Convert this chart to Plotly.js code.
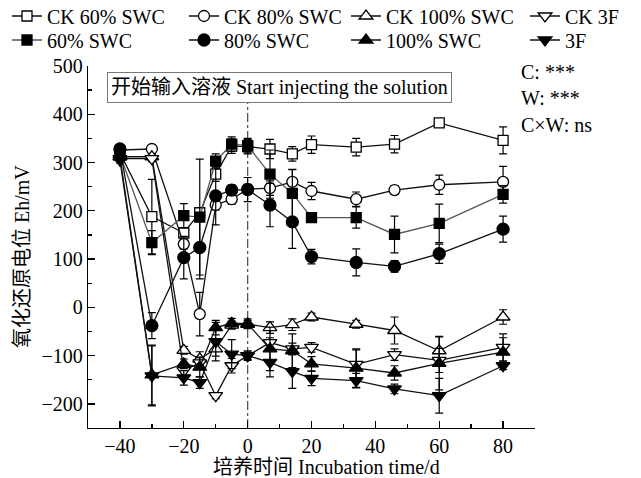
<!DOCTYPE html>
<html>
<head>
<meta charset="utf-8">
<script src="https://cdn.plot.ly/plotly-3.0.1.min.js"></script>
<style>html,body{margin:0;padding:0;background:#fff;}#chart{width:641px;height:478px;}</style>
</head>
<body>
<div id="chart"></div>
<script>
// Incubation days
const days = [-40, -30, -20, -15, -10, -5, 0, 7, 14, 20, 34, 46, 60, 80];

// Series names
const names = ["CK 60% SWC", "CK 80% SWC", "CK 100% SWC", "CK 3F",
               "60% SWC", "80% SWC", "100% SWC", "3F"];

// Eh (mV) values and error bars
const ck60     = [320, 188, 154, 196, 276, 334, 333, 328, 318, 337, 332, 338, 382, 346];
const ck60Err  = [6, 77, 8, 10, 15, 15, 15, 20, 15, 18, 18, 18, 6, 28];
const ck80     = [326, 328, 131, -14, 212, 224, 245, 247, 260, 241, 224, 243, 254, 260];
const ck80Err  = [6, 8, 10, 45, 10, 10, 10, 15, 25, 18, 15, 8, 20, 32];
const ck100    = [312, 312, -89, -107, -86, -37, -35, -42, -36, -20, -35, -48, -90, -20];
const ck100Err = [6, 6, 8, 15, 15, 8, 8, 12, 12, 8, 8, 28, 30, 15];
const ck3f     = [308, 308, -131, -115, -183, -121, -100, -73, -86, -83, -118, -98, -110, -83];
const ck3fErr  = [6, 6, 10, 12, 6, 15, 10, 10, 12, 10, 30, 12, 25, 28];
const s60      = [316, 134, 190, 187, 303, 338, 335, 276, 236, 186, 186, 151, 174, 234];
const s60Err   = [6, 25, 25, 120, 15, 15, 15, 50, 50, 8, 22, 38, 40, 18];
const s80      = [328, -38, 103, 124, 231, 243, 244, 212, 177, 105, 93, 85, 111, 162];
const s80Err   = [6, 27, 44, 65, 60, 10, 25, 45, 55, 15, 28, 12, 20, 27];
const s100     = [312, -140, -117, -124, -42, -33, -34, -86, -90, -117, -126, -136, -116, -93];
const s100Err  = [6, 62, 10, 20, 15, 10, 10, 45, 35, 15, 40, 15, 55, 30];
const s3f      = [305, -142, -146, -156, -71, -97, -100, -114, -133, -147, -152, -169, -183, -121];
const s3fErr   = [6, 62, 15, 12, 40, 30, 8, 30, 35, 15, 15, 10, 36, 8];

const FONT = "Liberation Serif, Noto Sans CJK SC, serif";

const seriesY = [ck60, ck80, ck100, ck3f, s60, s80, s100, s3f];
const seriesE = [ck60Err, ck80Err, ck100Err, ck3fErr, s60Err, s80Err, s100Err, s3fErr];
const symbols = ["square", "circle", "triangle-up", "triangle-down",
                 "square", "circle", "triangle-up", "triangle-down"];
const filled  = [false, false, false, false, true, true, true, true];
const lineCol = ["#111", "#111", "#111", "#111", "#555", "#111", "#111", "#111"];
const msize   = [10, 11, 12, 12, 10, 12, 12, 12];

// legend placement (container px)
const legX = [7, 184, 346, 525];
const legY = [16, 40];

const data = [];
const layoutLegends = {};
for (let i = 0; i < 8; i++) {
  const lname = i === 0 ? "legend" : "legend" + (i + 1);
  data.push({
    type: "scatter",
    mode: "lines+markers",
    name: names[i],
    x: days,
    y: seriesY[i],
    legend: lname,
    line: {color: lineCol[i], width: 1.3},
    marker: {
      symbol: symbols[i],
      size: msize[i],
      color: filled[i] ? "#000" : "#fff",
      line: {color: "#000", width: 1.3}
    },
    error_y: {type: "data", array: seriesE[i], visible: true, color: "#000", thickness: 1.2, width: 4}
  });
  const col = i % 4, row = Math.floor(i / 4);
  layoutLegends[lname] = {
    xref: "container", yref: "container",
    x: legX[col] / 641, y: 1 - legY[row] / 478,
    xanchor: "left", yanchor: "middle",
    bgcolor: "rgba(0,0,0,0)", borderwidth: 0,
    font: {family: FONT, size: 20, color: "#000"},
    itemwidth: 30
  };
}

const W = 447, H = 362, L = 88, T = 66;
function px(xp) { return (xp - L) / W; }
function py(yp) { return (T + H - yp) / H; }

const layout = Object.assign({
  width: 641, height: 478,
  margin: {l: 88, r: 106, t: 66, b: 50, autoexpand: false},
  paper_bgcolor: "#fff", plot_bgcolor: "#fff",
  font: {family: FONT, size: 20, color: "#000"},
  showlegend: true,
  xaxis: {
    range: [-50, 90], dtick: 20, tick0: 0,
    ticks: "inside", ticklen: 7, tickwidth: 1.3, tickcolor: "#000",
    minor: {dtick: 10, ticks: "inside", ticklen: 4, tickwidth: 1.3, tickcolor: "#000"},
    showline: true, linecolor: "#000", linewidth: 1.3,
    showgrid: false, zeroline: false, automargin: false,
    tickfont: {family: FONT, size: 20, color: "#000"}
  },
  yaxis: {
    range: [-250, 500], dtick: 100, tick0: 0,
    ticks: "inside", ticklen: 7, tickwidth: 1.3, tickcolor: "#000",
    minor: {dtick: 50, ticks: "inside", ticklen: 4, tickwidth: 1.3, tickcolor: "#000"},
    showline: true, linecolor: "#000", linewidth: 1.3,
    showgrid: false, zeroline: false, automargin: false,
    tickfont: {family: FONT, size: 20, color: "#000"}
  },
  shapes: [{
    type: "line", xref: "x", yref: "y", x0: 0, x1: 0, y0: -250, y1: 430,
    layer: "below", line: {color: "#555", width: 1.3, dash: "dashdot"}
  }],
  annotations: [
    {xref: "paper", yref: "paper", x: px(107), y: py(72), xanchor: "left", yanchor: "top",
     text: "开始输入溶液 Start injecting the solution", showarrow: false,
     font: {family: FONT, size: 20, color: "#000"},
     bgcolor: "#fff", bordercolor: "#777", borderwidth: 1, borderpad: 3},
    {xref: "paper", yref: "paper", x: px(519), y: py(72), xanchor: "left", yanchor: "middle",
     text: "C: ***", showarrow: false, font: {family: FONT, size: 20, color: "#000"}},
    {xref: "paper", yref: "paper", x: px(519), y: py(98), xanchor: "left", yanchor: "middle",
     text: "W: ***", showarrow: false, font: {family: FONT, size: 20, color: "#000"}},
    {xref: "paper", yref: "paper", x: px(519), y: py(125), xanchor: "left", yanchor: "middle",
     text: "C×W: ns", showarrow: false, font: {family: FONT, size: 20, color: "#000"}},
    {xref: "paper", yref: "paper", x: px(326), y: py(467), xanchor: "center", yanchor: "middle",
     text: "培养时间 Incubation time/d", showarrow: false, font: {family: FONT, size: 20, color: "#000"}},
    {xref: "paper", yref: "paper", x: px(22), y: py(257), xanchor: "center", yanchor: "middle",
     textangle: -90, text: "氧化还原电位 Eh/mV", showarrow: false,
     font: {family: FONT, size: 20, color: "#000"}}
  ]
}, layoutLegends);

Plotly.newPlot("chart", data, layout, {displayModeBar: false, staticPlot: true});
</script>
</body>
</html>
